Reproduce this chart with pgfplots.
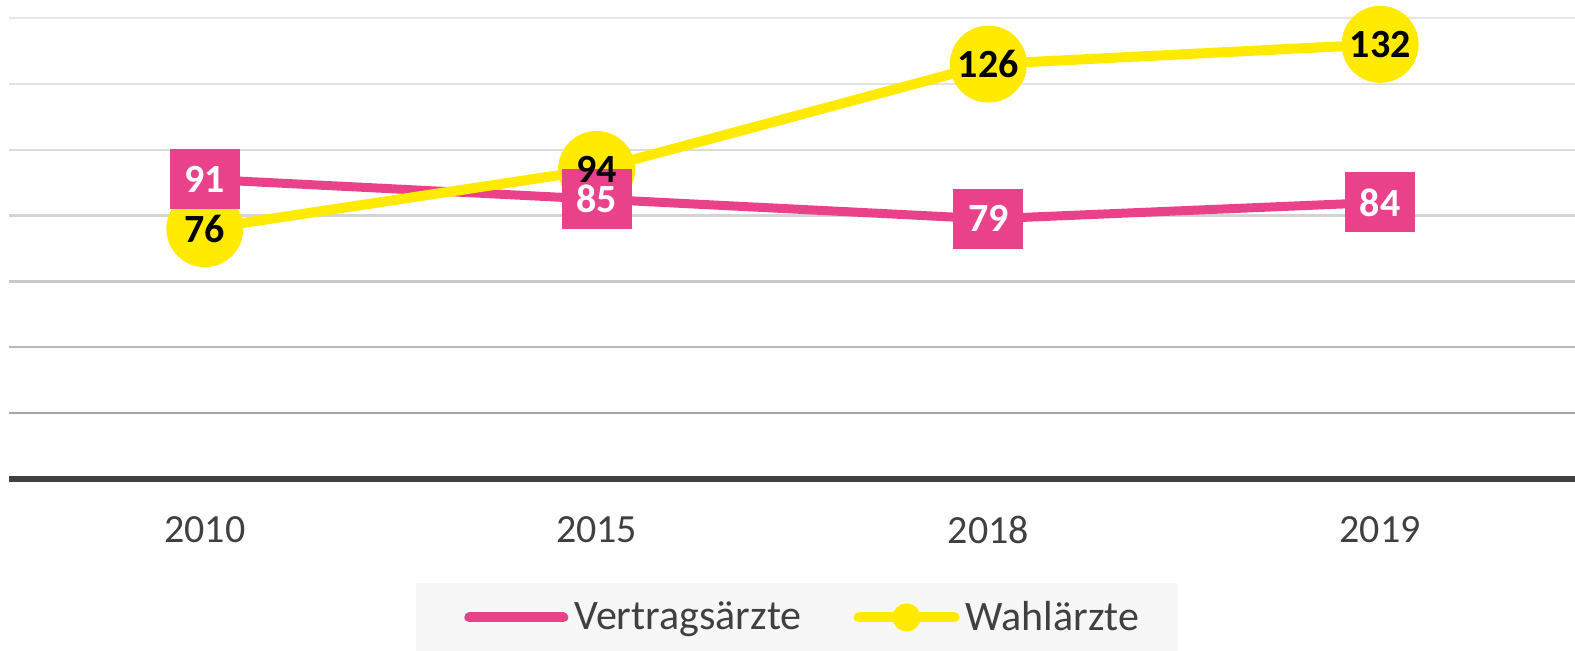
\documentclass[border=0pt]{standalone}
\usepackage{fontspec}
\setmainfont{Carlito}
\usepackage{pgfplots}
\pgfplotsset{compat=1.18}
\definecolor{pinkc}{RGB}{233,66,138}
\definecolor{yellowc}{RGB}{255,234,0}
\definecolor{txtc}{RGB}{64,64,64}
\definecolor{legbg}{RGB}{247,247,247}
\pgfplotstableread{
x y
0 91
1 85
2 79
3 84
}\vertrag
\pgfplotstableread{
x y
0 76
1 94
2 126
3 132
}\wahl
\begin{document}
\begin{tikzpicture}
\useasboundingbox (-4.5pt,-86pt) rectangle (783pt,239.5pt);
\begin{axis}[
  scale only axis,
  width=783.5pt, height=230.5pt,
  xmin=-0.5, xmax=3.5, ymin=0, ymax=140,
  clip=false,
  axis x line*=bottom,
  axis y line=none,
  x axis line style={-, draw=txtc, line width=3.3pt},
  xtick={0,1,2,3},
  xticklabels={2010,2015,2018,2019},
  major tick length=0pt,
  /pgf/number format/assume math mode=true,
  xticklabel style={font=\fontsize{20}{24}\selectfont, text=txtc, yshift=-15pt},
  legend columns=2,
  legend style={
    at={(0.5,0)}, anchor=north, yshift=-52pt, xshift=2.25pt,
    fill=legbg, draw=none,
    font=\fontsize{21}{25}\selectfont, text=txtc,
    inner xsep=17.25pt, inner ysep=7pt,
    /tikz/every odd column/.append style={column sep=1pt},
    /tikz/every even column/.append style={column sep=24pt},
  },
]
% gridlines
\draw[line width=1.2pt, color={rgb,255:red,166;green,166;blue,166}] (axis cs:-0.5,20) -- (axis cs:3.5,20);
\draw[line width=1.2pt, color={rgb,255:red,184;green,184;blue,184}] (axis cs:-0.5,40) -- (axis cs:3.5,40);
\draw[line width=1.2pt, color={rgb,255:red,200;green,200;blue,200}] (axis cs:-0.5,60) -- (axis cs:3.5,60);
\draw[line width=1.2pt, color={rgb,255:red,212;green,212;blue,212}] (axis cs:-0.5,80) -- (axis cs:3.5,80);
\draw[line width=1.2pt, color={rgb,255:red,220;green,220;blue,220}] (axis cs:-0.5,100) -- (axis cs:3.5,100);
\draw[line width=1.2pt, color={rgb,255:red,226;green,226;blue,226}] (axis cs:-0.5,120) -- (axis cs:3.5,120);
\draw[line width=1.2pt, color={rgb,255:red,230;green,230;blue,230}] (axis cs:-0.5,140) -- (axis cs:3.5,140);

\addplot[draw=pinkc, line width=4.5pt, mark=none,
  legend image code/.code={\path (-7pt,0pt); \draw[draw=pinkc, line width=5pt, line cap=round] (0pt,0pt) -- (47pt,0pt);}]
  table[x=x,y=y] {\vertrag};
\addlegendentry{Vertragsärzte}
\addplot[draw=yellowc, line width=5pt, mark=none,
  legend image code/.code={\draw[draw=yellowc, line width=5pt, line cap=round] (0pt,0pt) -- (48pt,0pt); \fill[yellowc] (24pt,0pt) circle (4.5pt);}]
  table[x=x,y=y] {\wahl};
\addlegendentry{Wahlärzte}

% yellow circles
\addplot[draw=none, mark=none, forget plot,
  nodes near coords={},
  nodes near coords style={anchor=center, circle, fill=yellowc, minimum size=38.5pt, inner sep=0pt}]
  table[x=x,y=y] {\wahl};
% pink boxes
\addplot[draw=none, mark=none, forget plot,
  nodes near coords={},
  nodes near coords style={anchor=center, rectangle, fill=pinkc, minimum width=35pt, minimum height=30pt, inner sep=0pt}]
  table[x=x,y=y] {\vertrag};
% labels
\addplot[draw=none, mark=none, forget plot,
  nodes near coords,
  nodes near coords style={anchor=center, inner sep=0pt, text=black, font=\fontsize{20}{24}\selectfont\bfseries, /pgf/number format/assume math mode=true}]
  table[x=x,y=y] {\wahl};
\addplot[draw=none, mark=none, forget plot,
  nodes near coords,
  nodes near coords style={anchor=center, inner sep=0pt, text=white, font=\fontsize{20}{24}\selectfont\bfseries, /pgf/number format/assume math mode=true}]
  table[x=x,y=y] {\vertrag};
\end{axis}
\end{tikzpicture}
\end{document}
